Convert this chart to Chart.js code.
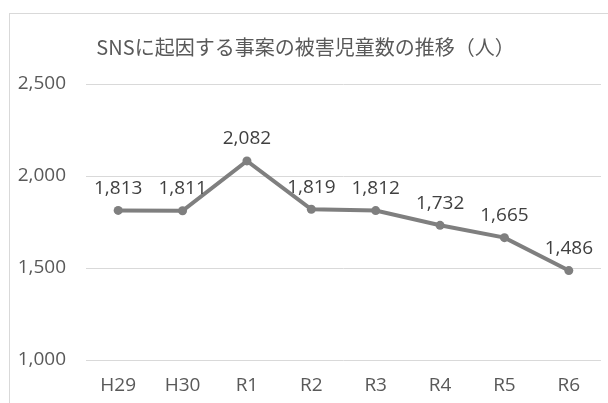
<!DOCTYPE html>
<html lang="ja">
<head>
<meta charset="utf-8">
<script src="https://cdn.jsdelivr.net/npm/chart.js@4.4.1/dist/chart.umd.min.js"></script>
<style>
  html, body { margin: 0; padding: 0; background: #fff; overflow: hidden; }
  #frame {
    position: absolute; left: 9px; top: 13px;
    width: 640px; height: 420px;
    border: 1px solid #d9d9d9;
  }
  #box { position: absolute; left: 0; top: 0; width: 600px; height: 390px; }
</style>
</head>
<body>
<div id="frame"><div id="box"><canvas id="c"></canvas></div></div>
<script>
// SNSに起因する事案の被害児童数の推移
const years = ['H29', 'H30', 'R1', 'R2', 'R3', 'R4', 'R5', 'R6'];
const victims = [1813, 1811, 2082, 1819, 1812, 1732, 1665, 1486];
const yTicks = [1000, 1500, 2000, 2500];

const lineGray = '#7f7f7f';
const numFont = '"Open Sans", sans-serif';

function fmt(v) {
    return v.toLocaleString('en-US');
}

// value labels above each point (no datalabels plugin available)
const valueLabels = {
    id: 'valueLabels',
    afterDatasetsDraw(chart) {
        const ctx = chart.ctx;
        const meta = chart.getDatasetMeta(0);
        ctx.save();
        ctx.font = '19px ' + numFont;
        ctx.fillStyle = '#404040';
        ctx.textAlign = 'center';
        ctx.textBaseline = 'middle';
        meta.data.forEach((pt, i) => {
            ctx.fillText(fmt(victims[i]), pt.x, pt.y - 22);
        });
        ctx.restore();
    }
};

new Chart(document.getElementById('c'), {
    type: 'line',
    data: {
        labels: years,
        datasets: [{
            data: victims,
            borderColor: lineGray,
            backgroundColor: lineGray,
            borderWidth: 4,
            pointRadius: 4.5,
            pointHoverRadius: 4.5,
            pointBackgroundColor: lineGray,
            pointBorderWidth: 0,
            tension: 0,
            clip: false
        }]
    },
    options: {
        responsive: true,
        maintainAspectRatio: false,
        animation: false,
        layout: { padding: { left: 0, right: 9, top: 0, bottom: 0 } },
        plugins: {
            legend: { display: false },
            tooltip: { enabled: false },
            title: {
                display: true,
                text: 'SNSに起因する事案の被害児童数の推移（人）',
                color: '#595959',
                font: { family: '"Noto Sans CJK JP", sans-serif', size: 20, weight: 'normal' },
                padding: { top: 21, bottom: 25 }
            }
        },
        scales: {
            x: {
                offset: true,
                grid: { display: false, drawTicks: false },
                border: { display: false },
                ticks: {
                    color: '#595959',
                    font: { family: numFont, size: 19 },
                    padding: 14,
                    maxRotation: 0
                },
                afterFit(scale) { scale.height = 44; }
            },
            y: {
                min: 1000,
                max: 2500,
                grid: { color: '#d9d9d9', lineWidth: 1, drawTicks: false },
                border: { display: false },
                afterBuildTicks(scale) {
                    scale.ticks = yTicks.map(v => ({ value: v }));
                },
                ticks: {
                    color: '#595959',
                    font: { family: numFont, size: 19 },
                    padding: 20,
                    callback: v => fmt(v)
                },
                afterFit(scale) { scale.width = 76; }
            }
        }
    },
    plugins: [valueLabels]
});
</script>
</body>
</html>
